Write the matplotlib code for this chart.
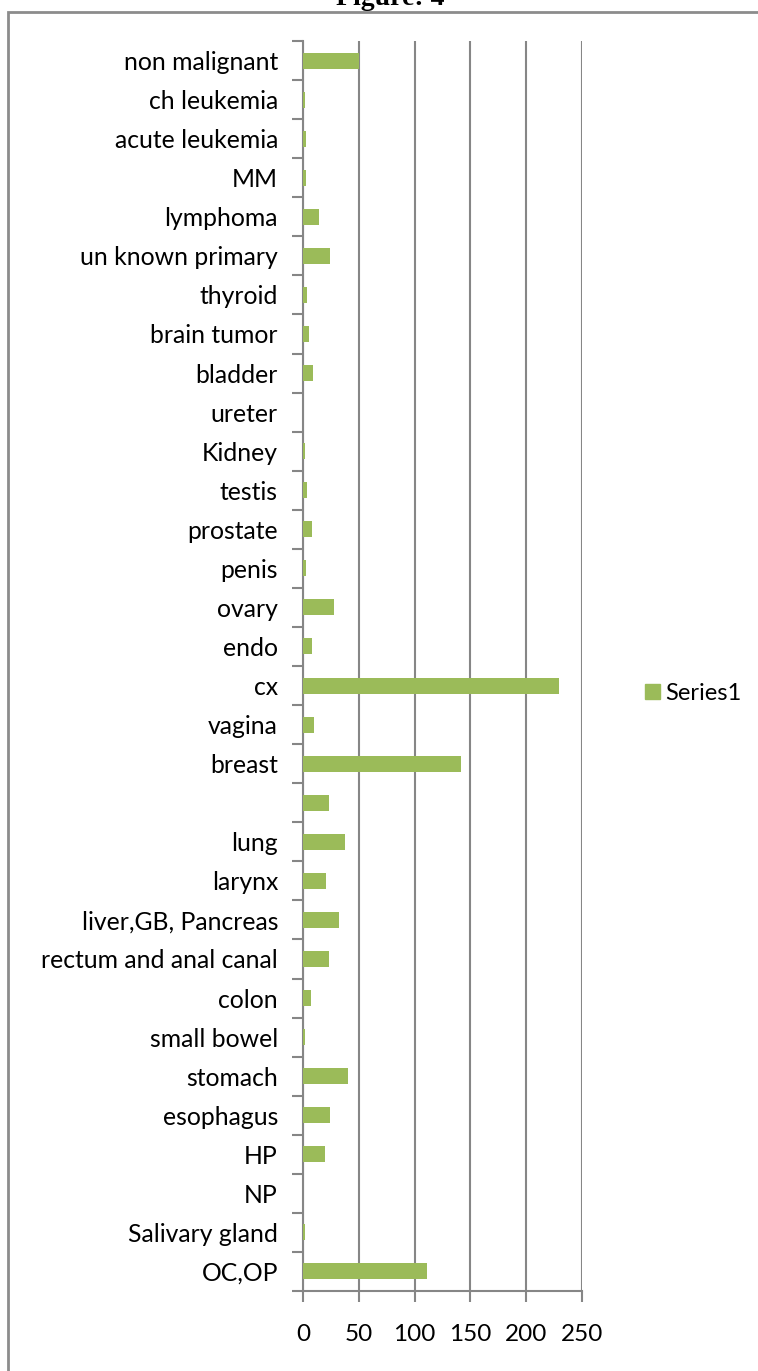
import matplotlib
matplotlib.use("Agg")
import matplotlib.pyplot as plt
from matplotlib.patches import Rectangle, Patch

categories = ["non malignant", "ch leukemia", "acute leukemia", "MM", "lymphoma",
              "un known primary", "thyroid", "brain tumor", "bladder", "ureter",
              "Kidney", "testis", "prostate", "penis", "ovary", "endo", "cx",
              "vagina", "breast", "", "lung", "larynx", "liver,GB, Pancreas",
              "rectum and anal canal", "colon", "small bowel", "stomach",
              "esophagus", "HP", "NP", "Salivary gland", "OC,OP"]
values = [50, 2, 3, 3, 14, 24, 4, 5, 9, 0, 2, 4, 8, 3, 28, 8, 229, 10, 142, 23,
          38, 21, 32, 23, 7, 2, 40, 24, 20, 0, 2, 111]
xticks = [0, 50, 100, 150, 200, 250]
series_name = "Series1"

W, H = 758, 1371
fig = plt.figure(figsize=(W / 100, H / 100), dpi=100)
fig.patch.set_facecolor("white")

font = ["Lato", "DejaVu Sans"]
grey = "#868686"
green = "#9BBB59"

ax = fig.add_axes([303 / W, 1 - 1291 / H, (582 - 303) / W, (1291 - 41) / H])
n = len(categories)
ypos = list(range(n))[::-1]
ax.barh(ypos, values, height=0.41, color=green, linewidth=0, zorder=3)
ax.set_ylim(-0.5, n - 0.5)
ax.set_xlim(0, 250)

ax.set_xticks(xticks)
ax.set_xticklabels([str(t) for t in xticks], fontsize=17.5, family=font)
ax.set_yticks(ypos)
ax.set_yticklabels(categories, fontsize=17.8, family=font)
ax.tick_params(axis="y", length=0, pad=18)
ax.tick_params(axis="x", length=8, width=1.5, color=grey, pad=16)
# boundary ticks for categories
ax.set_yticks([i - 0.5 for i in range(n + 1)], minor=True)
ax.tick_params(axis="y", which="minor", length=8, width=1.5, color=grey)

ax.grid(axis="x", color=grey, linewidth=1.5, zorder=0)
ax.grid(axis="y", visible=False)
for s in ["top", "right"]:
    ax.spines[s].set_visible(False)
for s in ["left", "bottom"]:
    ax.spines[s].set_color(grey)
    ax.spines[s].set_linewidth(1.5)
ax.set_axisbelow(True)

leg = fig.legend(handles=[Patch(facecolor=green, edgecolor=green, label=series_name)],
                 loc="center left", bbox_to_anchor=(636 / W, 1 - 693 / H), frameon=False,
                 prop={"family": font, "size": 17}, handlelength=0.6, handleheight=0.6,
                 handletextpad=0.25, borderaxespad=0)

# outer border
fig.add_artist(Rectangle((8 / W, -0.1), 1.2, (1 - 12 / H) + 0.1, transform=fig.transFigure,
                         fill=False, edgecolor="#8c8c8c", linewidth=2, clip_on=False))

fig.text(390 / W, 1 - 5 / H, "Figure: 4", ha="center", va="baseline", fontsize=20,
         fontweight="bold", family=["Liberation Serif", "DejaVu Serif"])

fig.savefig("out.png", dpi=100)
